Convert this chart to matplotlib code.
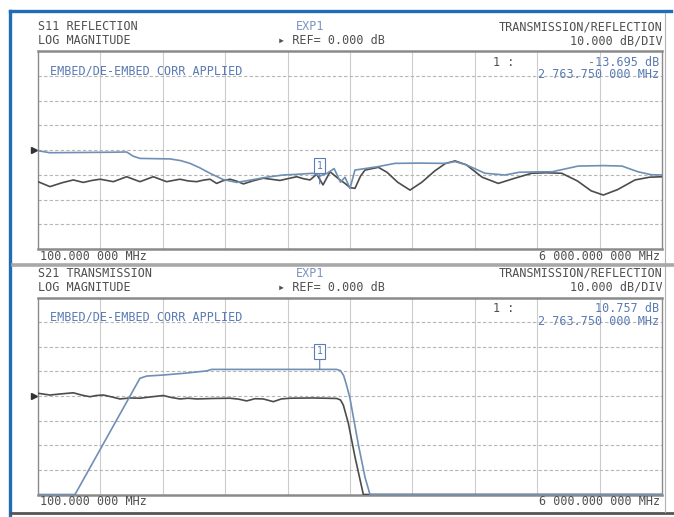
import numpy as np
import matplotlib.pyplot as plt
from matplotlib.lines import Line2D
from matplotlib.transforms import blended_transform_factory

# --- data (frequency in MHz, level in dB) ---
f_start = 100.0
f_stop = 6000.0
f_marker = 2763.75

# S11 - trace 1 (blue)
s11_a_f = [100, 213, 500, 800, 938, 1000, 1064, 1200, 1348, 1450, 1537, 1630, 1726, 1849, 1979,
           2105, 2260, 2417, 2560, 2700, 2763.75, 2830, 2900, 2960, 3003, 3050, 3097, 3192, 3318,
           3475, 3700, 3948, 4043, 4150, 4326, 4515, 4650, 4850, 4960, 5100, 5206, 5450, 5622,
           5773, 5900, 6000]
s11_a_db = [-0.3, -1.1, -1.0, -0.9, -0.8, -2.5, -3.4, -3.5, -3.6, -4.3, -5.4, -7.2, -9.4, -11.9, -13.1,
            -12.2, -11.0, -10.1, -9.8, -9.4, -10.5, -9.5, -7.5, -13.0, -11.0, -15.5, -8.1, -7.5, -6.7,
            -5.4, -5.3, -5.4, -4.7, -6.0, -9.4, -10.1, -9.0, -8.8, -8.8, -7.5, -6.5, -6.3, -6.5,
            -8.8, -10.0, -10.1]

# S11 - trace 2 (dark)
s11_b_f = [100, 213, 330, 434, 528, 610, 688, 812, 938, 1064, 1190, 1316, 1442, 1520, 1600, 1660,
           1726, 1789, 1850, 1915, 1980, 2042, 2130, 2230, 2300, 2388, 2470, 2546, 2610, 2672, 2735,
           2795, 2861, 2910, 2955, 3003, 3050, 3097, 3150, 3192, 3318, 3400, 3500, 3617, 3730,
           3850, 3950, 4043, 4150, 4300, 4452, 4600, 4768, 4900, 5052, 5200, 5330, 5445, 5580,
           5745, 5880, 6000]
s11_b_db = [-12.8, -14.8, -13.2, -12.1, -13.1, -12.3, -11.8, -12.8, -10.8, -12.8, -10.8, -12.8, -11.8, -12.5,
            -12.8, -12.2, -11.8, -13.5, -12.4, -11.8, -12.6, -13.7, -12.5, -11.4, -11.8, -12.3, -11.5,
            -10.8, -11.6, -12.1, -9.8, -14.1, -8.8, -10.5, -12.1, -13.5, -15.2, -15.5, -10.5, -8.1, -7.0,
            -9.0, -13.0, -16.2, -13.0, -8.5, -5.5, -4.4, -6.0, -11.0, -13.5, -11.5, -9.4, -9.2, -9.4,
            -12.5, -16.5, -18.2, -16.0, -12.1, -11.0, -10.8]

# S21 - trace 1 (blue)
s21_a_f = [100, 450, 1064, 1128, 1282, 1500, 1695, 1742, 2300, 2924, 2960, 2990, 3020, 3050,
           3128, 3192, 3239, 6000]
s21_a_db = [-40, -40, 7.2, 8.1, 8.5, 9.3, 10.2, 10.8, 10.8, 10.8, 10.3, 8.3, 4.0, -1.0,
            -19.5, -33.0, -40, -40]

# S21 - trace 2 (dark)
s21_b_f = [100, 213, 330, 434, 520, 592, 650, 718, 800, 875, 970, 1064, 1180, 1285, 1360, 1443,
           1520, 1600, 1760, 1915, 2000, 2073, 2150, 2230, 2325, 2400, 2483, 2700, 2924, 2960,
           2987, 3034, 3097, 3176, 6000]
s21_b_db = [1.1, 0.4, 0.9, 1.3, 0.3, -0.3, 0.2, 0.4, -0.4, -1.2, -0.8, -0.9, -0.3, 0.2, -0.6, -1.2,
            -0.9, -1.2, -1.0, -0.9, -1.3, -2.0, -1.1, -1.2, -2.3, -1.2, -0.9, -0.8, -1.0, -1.6,
            -3.7, -11.0, -24.7, -40, -40]

s11_marker_db = -13.695
s21_marker_db = 10.757

W, H = 674, 517
BLUE_T = '#6f8fb4'
DARK_T = '#4c4c4c'
TXT = '#505050'
TXT_BLUE = '#5a7bb3'
MONO = 'DejaVu Sans Mono'


def fx(x):
    return x / W


def fy(y):
    return 1 - y / H


fig = plt.figure(figsize=(W / 100, H / 100), dpi=100)
fig.patch.set_facecolor('white')


def txt(x, y, s, ha='left', color=TXT, size=8.5):
    fig.text(fx(x), fy(y), s, ha=ha, va='center', color=color, fontsize=size,
             family=MONO)


def panel(top, bottom, name, fa, da, fb, db, marker_db, marker_txt):
    ax = fig.add_axes([fx(38), fy(bottom), fx(662) - fx(38), (bottom - top) / H])
    ax.set_xlim(f_start, f_stop)
    ax.set_ylim(-40, 40)
    step = (f_stop - f_start) / 10
    for k in range(1, 10):
        ax.axvline(f_start + k * step, color='#cccccc', lw=0.8, zorder=0)
    for v in range(-30, 40, 10):
        ax.axhline(v, color='#b5b5b5', lw=0.8, ls=(0, (3, 2)), zorder=0)
    ax.set_xticks([])
    ax.set_yticks([])
    for sp in ax.spines.values():
        sp.set_color('#8a8a8a')
        sp.set_linewidth(1.0)
    ax.spines['top'].set_linewidth(1.8)
    ax.spines['bottom'].set_linewidth(1.8)

    ax.plot(fb, db, color=DARK_T, lw=1.2, zorder=3)
    ax.plot(fa, da, color=BLUE_T, lw=1.2, zorder=4)

    # reference level pointer
    tr = blended_transform_factory(ax.transAxes, ax.transData)
    ax.plot([-0.007], [0], marker='>', ms=4, color='#333333', transform=tr, clip_on=False)

    # marker 1
    ax.annotate('1', xy=(f_marker, marker_db), xytext=(0, 13), textcoords='offset points',
                ha='center', va='center', fontsize=7, color=TXT_BLUE, family=MONO,
                bbox=dict(boxstyle='square,pad=0.25', fc='white', ec=TXT_BLUE, lw=0.8),
                arrowprops=dict(arrowstyle='-', color=TXT_BLUE, lw=0.8, shrinkA=0, shrinkB=0),
                zorder=6)

    # headers
    txt(38, top - 24, name)
    txt(38, top - 10, 'LOG MAGNITUDE')
    txt(296, top - 24, 'EXP1', color='#7c93c4')
    txt(278, top - 10, '\u25b8 REF= 0.000 dB')
    txt(663, top - 24, 'TRANSMISSION/REFLECTION', ha='right')
    txt(663, top - 10, '10.000 dB/DIV', ha='right')
    # inside annotations
    txt(50, top + 20, 'EMBED/DE-EMBED CORR APPLIED', color=TXT_BLUE)
    txt(493, top + 11, '1 :')
    txt(659, top + 11, marker_txt, ha='right', color=TXT_BLUE)
    txt(659, top + 24, '2 763.750 000 MHz', ha='right', color=TXT_BLUE)
    # footer
    txt(40, bottom + 7, '100.000 000 MHz')
    txt(660, bottom + 7, '6 000.000 000 MHz', ha='right')
    return ax


panel(51, 249, 'S11 REFLECTION', s11_a_f, s11_a_db, s11_b_f, s11_b_db,
      s11_marker_db, '-13.695 dB')
panel(297.5, 494.5, 'S21 TRANSMISSION', s21_a_f, s21_a_db, s21_b_f, s21_b_db,
      s21_marker_db, '10.757 dB')

# frame around the screen capture
fig.add_artist(Line2D([fx(10), fx(10)], [fy(11), fy(515)], color='#1f6db4', lw=2.4))
fig.add_artist(Line2D([fx(10), fx(671)], [fy(11), fy(11)], color='#1f6db4', lw=2.4))
fig.add_artist(Line2D([fx(11), fx(674)], [fy(513), fy(513)], color='#555555', lw=2.0))
fig.add_artist(Line2D([fx(665), fx(665)], [fy(13), fy(512)], color='#b0b0b0', lw=0.8))
# separator between the two traces
fig.add_artist(Line2D([fx(13), fx(674)], [fy(265), fy(265)], color='#a8a8a8', lw=2.6))

fig.savefig('out.png', dpi=100)
